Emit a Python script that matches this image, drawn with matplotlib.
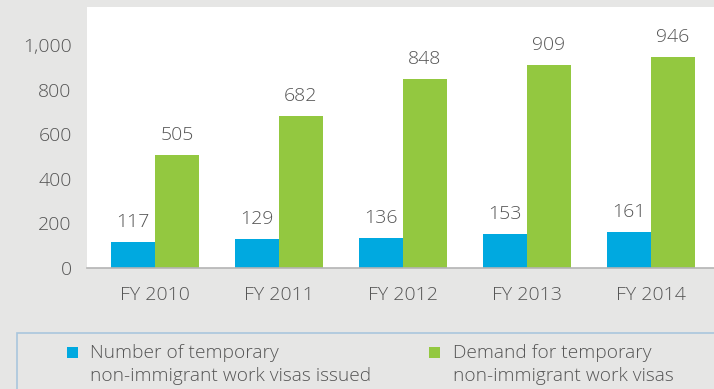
import numpy as np
from matplotlib import pyplot as plt
from matplotlib.patches import Rectangle

years = ['FY 2010', 'FY 2011', 'FY 2012', 'FY 2013', 'FY 2014']
issued = [117, 129, 136, 153, 161]
demand = [505, 682, 848, 909, 946]
series_names = ['Number of temporary\nnon-immigrant work visas issued',
                'Demand for temporary\nnon-immigrant work visas']

blue = '#00a9e0'
green = '#93c840'
bg = '#e6e6e5'
txt = '#555555'

plt.rcParams['font.family'] = ['Open Sans', 'DejaVu Sans']
plt.rcParams['font.weight'] = 'light'

W, H = 714, 389
fig = plt.figure(figsize=(W / 100, H / 100), dpi=100, facecolor=bg)
ax = fig.add_axes([87 / W, (H - 268) / H, 627 / W, 261 / H])
ax.set_facecolor('white')

x = np.arange(len(years))
w = 0.355
b1 = ax.bar(x - w / 2, issued, w, color=blue)
b2 = ax.bar(x + w / 2, demand, w, color=green)

for bars, vals in ((b1, issued), (b2, demand)):
    for bar, v in zip(bars, vals):
        ax.annotate(str(v), (bar.get_x() + bar.get_width() / 2, v),
                    xytext=(0, 8), textcoords='offset points',
                    ha='center', va='bottom', fontsize=14, color=txt)

ax.set_xlim(-0.548, 4.508)
ax.set_ylim(0, 1170)
ax.set_yticks([0, 200, 400, 600, 800, 1000])
ax.set_yticklabels(['0', '200', '400', '600', '800', '1,000'])
ax.set_xticks(x)
ax.set_xticklabels(years)
ax.tick_params(axis='y', length=0, pad=11, labelsize=14, labelcolor=txt)
ax.tick_params(axis='x', length=0, pad=13, labelsize=14, labelcolor=txt)
for s in ('top', 'right', 'left'):
    ax.spines[s].set_visible(False)
ax.spines['bottom'].set_color('#b4b4b4')
ax.spines['bottom'].set_linewidth(1.2)

# legend box drawn by hand
fig.patches.append(Rectangle((17 / W, -0.1), 1.0, (H - 333) / H + 0.1,
                             transform=fig.transFigure, facecolor=bg,
                             edgecolor='#a9c6dd', linewidth=1.2))
for (lx, tx), col, name in zip(((67, 90), (429, 453)), (blue, green), series_names):
    fig.patches.append(Rectangle((lx / W, (H - 358) / H), 11 / W, 11 / H,
                                 transform=fig.transFigure, facecolor=col,
                                 edgecolor='none'))
    fig.text(tx / W, (H - 344) / H, name, ha='left', va='top',
             fontsize=13.8, color=txt, linespacing=1.38)

fig.savefig('out.png', dpi=100, facecolor=bg)
